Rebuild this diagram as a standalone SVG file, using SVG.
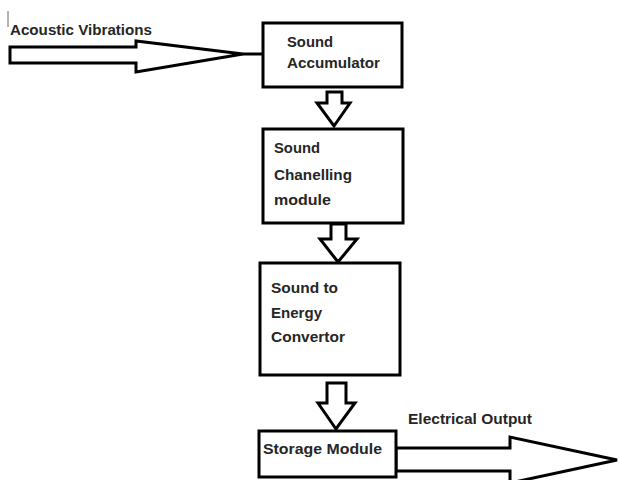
<svg xmlns="http://www.w3.org/2000/svg" width="619" height="480" viewBox="0 0 619 480">
<style>
.box{fill:#fff;stroke:#000;stroke-width:3}
.arr{fill:#fff;stroke:#000;stroke-width:3;stroke-linejoin:miter}
text{font-family:"Liberation Sans",Arial,sans-serif;font-size:15px;font-weight:bold;fill:#262626}
</style>
<rect width="619" height="480" fill="#fff"/>
<line x1="8" y1="11" x2="8" y2="27" stroke="#666" stroke-width="1"/>
<g id="connectors">
<polygon class="arr" points="10,47 136,47 136,41 243,54 136,72 136,63 10,63"/>
<line x1="243" y1="54" x2="263" y2="54" stroke="#000" stroke-width="3"/>
<polygon class="arr" points="327,92 342,92 342,103 350,103 334,126 317,103 327,103"/>
<polygon class="arr" points="331,224 346,224 346,239 357,239 338,262 320,239 331,239"/>
<polygon class="arr" points="327,383 346,383 346,403 355,403 336,429 318,403 327,403"/>
<polygon class="arr" points="396,448 510,448 510,437 617,460 510,483 510,471 396,471"/>
</g>
<text x="10" y="35" textLength="142" lengthAdjust="spacingAndGlyphs">Acoustic Vibrations</text>
<g id="accumulator">
<rect class="box" x="263" y="23" width="139" height="64"/>
<text x="287" y="47" textLength="46" lengthAdjust="spacingAndGlyphs">Sound</text>
<text x="287" y="68" textLength="93" lengthAdjust="spacingAndGlyphs">Accumulator</text>
</g>
<g id="channelling">
<rect class="box" x="263" y="129" width="140" height="94"/>
<text x="274" y="153" textLength="46" lengthAdjust="spacingAndGlyphs">Sound</text>
<text x="274" y="180" textLength="78" lengthAdjust="spacingAndGlyphs">Chanelling</text>
<text x="274" y="205" textLength="57" lengthAdjust="spacingAndGlyphs">module</text>
</g>
<g id="convertor">
<rect class="box" x="260" y="263" width="140" height="112"/>
<text x="271" y="293" textLength="67" lengthAdjust="spacingAndGlyphs">Sound to</text>
<text x="271" y="318" textLength="51" lengthAdjust="spacingAndGlyphs">Energy</text>
<text x="271" y="342" textLength="74" lengthAdjust="spacingAndGlyphs">Convertor</text>
</g>
<g id="storage">
<rect class="box" x="259" y="431" width="137" height="46"/>
<text x="263" y="454" textLength="119" lengthAdjust="spacingAndGlyphs">Storage Module</text>
</g>
<text x="408" y="424" textLength="124" lengthAdjust="spacingAndGlyphs">Electrical Output</text>
</svg>
